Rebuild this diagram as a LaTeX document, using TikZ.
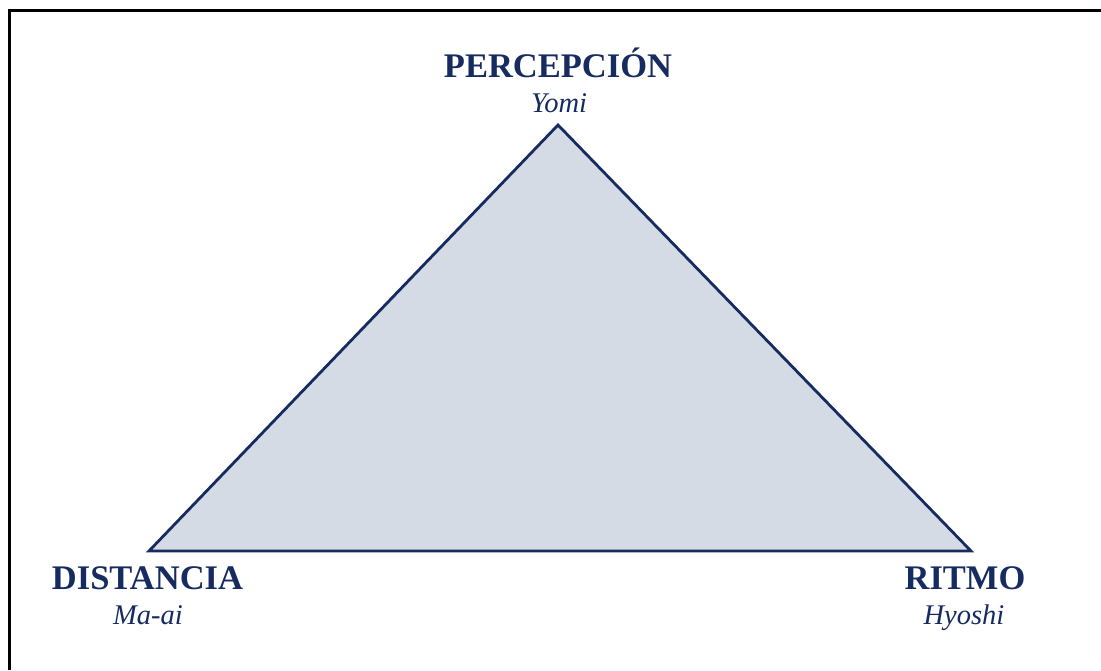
\documentclass[tikz,border=0pt]{standalone}
\usepackage{fontspec}
\setmainfont{Liberation Serif}
\definecolor{navy}{RGB}{22,43,96}
\definecolor{tri}{RGB}{213,219,228}
\begin{document}
\begin{tikzpicture}[x=1pt,y=1pt,
  title/.style={text=navy, font=\bfseries\fontsize{34.5}{38}\selectfont, anchor=base, inner sep=0pt},
  sub/.style={text=navy, font=\itshape\fontsize{28.5}{32}\selectfont, anchor=base, inner sep=0pt},
  frame/.style={line width=3pt, black}]
\useasboundingbox (0,0) rectangle (1101,670);
\draw[frame] (9.5,0) -- (9.5,659) -- (1101,659);
\coordinate (top) at (558,545);
\coordinate (bl) at (149,119);
\coordinate (br) at (971,119);
\filldraw[fill=tri, draw=navy, line width=2.8pt, line join=miter] (bl) -- (top) -- (br) -- cycle;
\node[title] (perc) at (558,592.5) {PERCEPCIÓN};
\node[sub] (yomi) at (559,557.5) {Yomi};
\node[title] (dist) at (147.5,80.5) {DISTANCIA};
\node[sub] (maai) at (148,46) {Ma-ai};
\node[title] (ritmo) at (965,80.5) {RITMO};
\node[sub] (hyoshi) at (964,46) {Hyoshi};
\end{tikzpicture}
\end{document}
